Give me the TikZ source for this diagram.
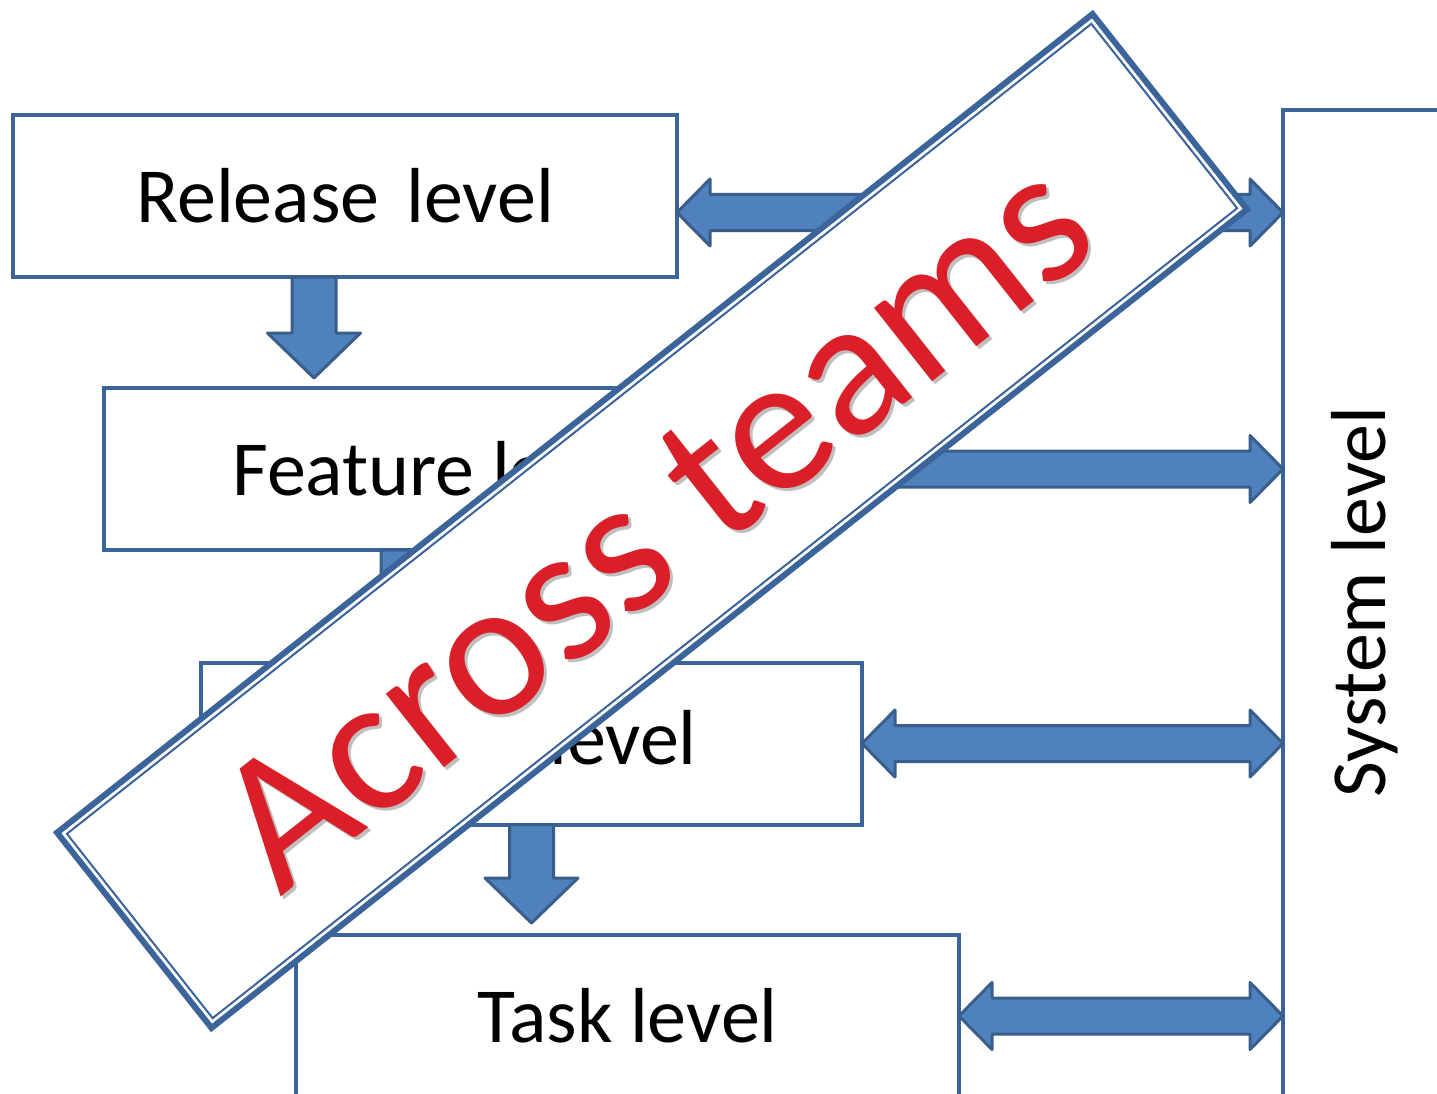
\documentclass[tikz,border=0pt]{standalone}
\usepackage{fontspec}
\setmainfont{Carlito}
\usetikzlibrary{calc}
\definecolor{boxline}{RGB}{59,100,155}
\definecolor{arrowfill}{RGB}{79,129,189}
\definecolor{arrowline}{RGB}{57,94,140}
\definecolor{teamred}{RGB}{218,31,40}
\begin{document}
\begin{tikzpicture}[x=1pt, y=1pt,
  levelbox/.style={draw=boxline, line width=4, fill=white, outer sep=0, inner sep=0,
    minimum height=162, font=\fontsize{78}{90}\selectfont},
  dblarrow/.style={draw=arrowline, fill=arrowfill, line width=3, line join=round,
    to path={let \p1=(\tikztostart), \p2=(\tikztotarget) in
      (\x1,\y1) -- (\x1+33pt,\y1+33.5pt) -- (\x1+33pt,\y1+18pt) -- (\x2-33pt,\y1+18pt)
      -- (\x2-33pt,\y1+33.5pt) -- (\x2,\y1) -- (\x2-33pt,\y1-33.5pt) -- (\x2-33pt,\y1-18pt)
      -- (\x1+33pt,\y1-18pt) -- (\x1+33pt,\y1-33.5pt) -- cycle}},
  downarrow/.style={draw=arrowline, fill=arrowfill, line width=3, line join=round,
    to path={let \p1=(\tikztostart), \p2=(\tikztotarget) in
      (\x1-22pt,\y1) -- (\x1-22pt,\y2+45pt) -- (\x1-46.5pt,\y2+45pt) -- (\x1,\y2)
      -- (\x1+46.5pt,\y2+45pt) -- (\x1+22pt,\y2+45pt) -- (\x1+22pt,\y1) -- cycle}},
  banner/.style={draw=boxline, line width=6, fill=white, rotate=38.33, inner sep=0,
    minimum width=1320, minimum height=249},
  bannerin/.style={draw=boxline, line width=2, rotate=38.33, inner sep=0,
    minimum width=1306, minimum height=235},
  teamtext/.style={rotate=38.33, inner sep=0, font=\fontsize{196}{200}\selectfont}]
\clip (0,0) rectangle (1437,-1094);
\node[levelbox, minimum width=664] (L_0) at (345,-196) {Release\hspace{0.12em} level};
\node[levelbox, minimum width=664] (L_1) at (436,-469) {Feature level};
\draw[downarrow] ([xshift=301]L_0.south west) to ([yshift=10]L_1.north);
\node[levelbox, minimum width=661] (L_2) at (531.5,-743.5) {Story level};
\draw[downarrow] ([xshift=299]L_1.south west) to ([yshift=11]L_2.north);
\node[levelbox, minimum width=663] (L_3) at (627.5,-1016) {Task level};
\draw[downarrow] (L_2.south) to ([yshift=12]L_3.north);
\node[levelbox, minimum width=164, minimum height=990] (S_0) at (1365,-605) {};
\node[rotate=90, font=\fontsize{78}{90}\selectfont] (S_0_text) at ([yshift=3]S_0.center) {System level};
\draw[dblarrow] ([yshift=-16.5]L_0.east) to (S_0.west);
\draw[dblarrow] (L_1.east) to (S_0.west);
\draw[dblarrow] (L_2.east) to (S_0.west);
\draw[dblarrow] (L_3.east) to (S_0.west);
\node[banner] (B_0) at (652,-521) {};
\node[bannerin] (B_1) at (B_0.center) {};
\node[teamtext, text=black, opacity=0.25] (T_1) at ([shift={(5,-5)}]B_0.center) {Across teams};
\node[teamtext, text=teamred] (T_0) at ([shift={(2,-2)}]B_0.center) {Across teams};
\end{tikzpicture}
\end{document}
